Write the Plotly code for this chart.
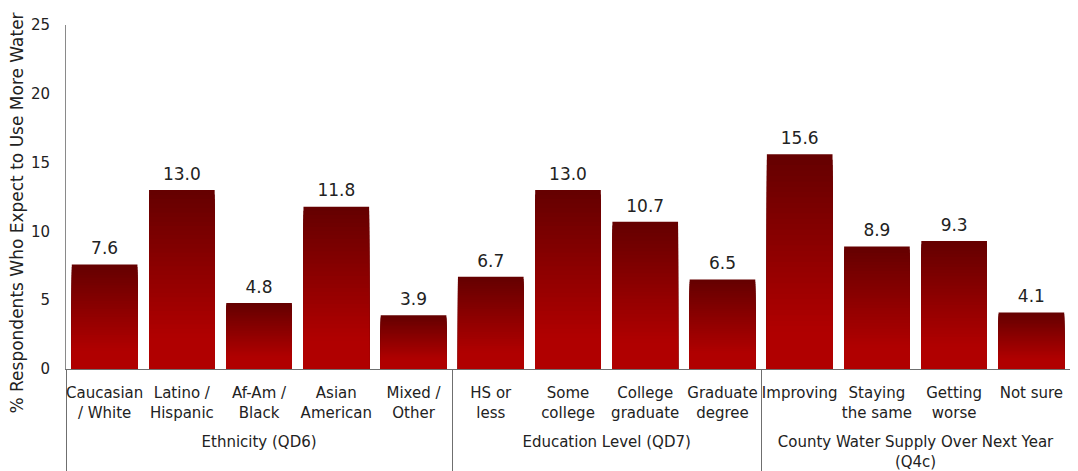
import plotly.graph_objects as go

groups = ["<br>Ethnicity (QD6)"] * 5 + ["<br>Education Level (QD7)"] * 4 + ["<br>County Water Supply Over Next Year<br>(Q4c)"] * 4
categories = ["Caucasian<br>/ White", "Latino /<br>Hispanic", "Af-Am /<br>Black", "Asian<br>American", "Mixed /<br>Other",
              "HS or<br>less", "Some<br>college", "College<br>graduate", "Graduate<br>degree",
              "Improving", "Staying<br>the same", "Getting<br>worse", "Not sure"]
values = [7.6, 13.0, 4.8, 11.8, 3.9, 6.7, 13.0, 10.7, 6.5, 15.6, 8.9, 9.3, 4.1]
y_ticks = [0, 5, 10, 15, 20, 25]
y_title = "% Respondents Who Expect to Use More Water"

FONT = "DejaVu Sans"
TXT = "#222222"
N = 40
dark = (100, 0, 0)
bright = (176, 0, 0)


def grad(t):
    # t = fraction of bar height from bottom (0) to top (1)
    if t <= 0.18:
        return "rgb(%d,%d,%d)" % bright
    u = (t - 0.18) / 0.82
    c = [round(bright[i] + (dark[i] - bright[i]) * u) for i in range(3)]
    return "rgb(%d,%d,%d)" % tuple(c)


fig = go.Figure()
x = [groups, categories]
for k in range(N, 0, -1):
    frac = k / N
    heights = [v * frac for v in values]
    fig.add_trace(go.Bar(
        x=x, y=heights,
        marker=dict(color=grad((k - 0.5) / N), line=dict(width=0)),
        hoverinfo="skip", showlegend=False,
    ))

# value labels
fig.add_trace(go.Scatter(
    x=x, y=values, mode="markers+text",
    marker=dict(size=8, opacity=0),
    text=["%.1f" % v for v in values], textposition="top center",
    textfont=dict(family=FONT, size=17, color=TXT),
    cliponaxis=False, hoverinfo="skip", showlegend=False,
))

fig.add_annotation(
    text=y_title, xref="paper", yref="paper", x=-0.0488, y=0.452,
    xanchor="center", yanchor="middle", textangle=-90, showarrow=False,
    font=dict(family=FONT, size=17, color=TXT),
)

fig.update_layout(
    width=1062, height=463,
    margin=dict(l=58, r=0, t=17, b=102),
    barmode="overlay", bargap=0.15,
    paper_bgcolor="white", plot_bgcolor="white",
    font=dict(family=FONT, size=15, color=TXT),
    showlegend=False,
)
fig.update_xaxes(
    type="multicategory", range=[-0.5, 12.5],
    showline=True, linecolor="#6f6f6f", linewidth=1,
    showgrid=False, ticks="", showdividers=True, dividercolor="#6f6f6f", dividerwidth=1,
    tickfont=dict(family=FONT, size=15, color=TXT), tickangle=0, automargin=False,
    ticklabelstandoff=10,
)
fig.update_yaxes(
    range=[0, 25], tickvals=y_ticks, showgrid=False, zeroline=False,
    showline=True, linecolor="#8a8a8a", linewidth=1, ticks="",
    tickfont=dict(family=FONT, size=15, color=TXT), ticklabelstandoff=12,
    automargin=False,
)

fig.write_html("out.html")
